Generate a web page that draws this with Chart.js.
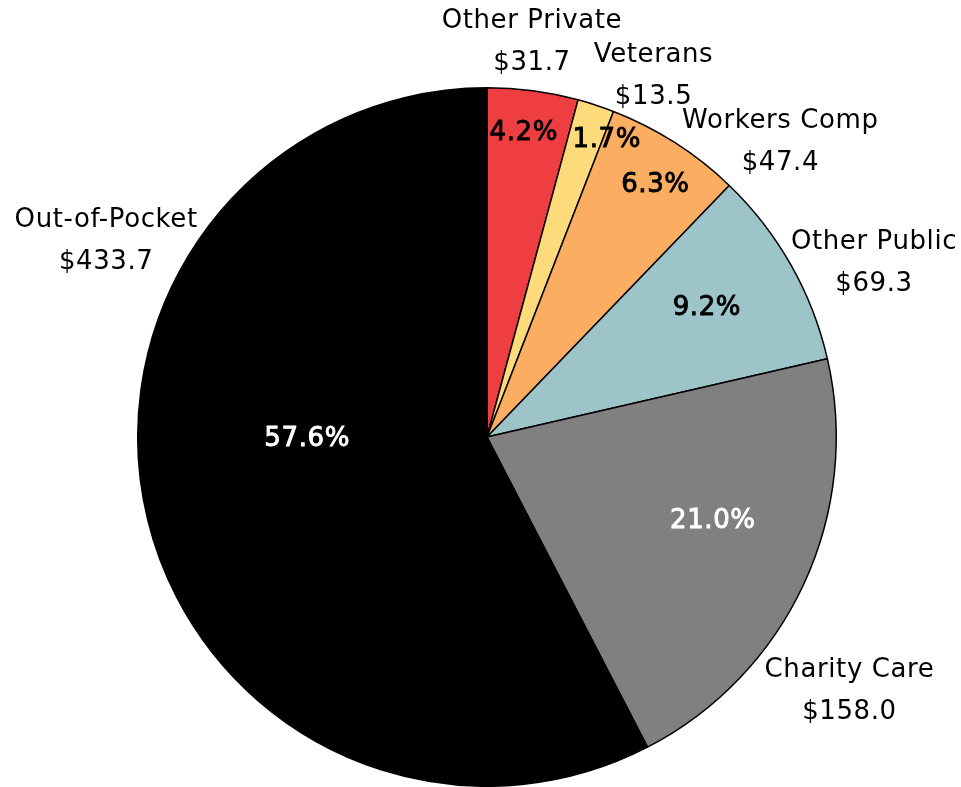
<!DOCTYPE html>
<html>
<head>
<meta charset="utf-8">
<script src="https://cdn.jsdelivr.net/npm/chart.js@4.4.1/dist/chart.umd.min.js"></script>
<style>
  html, body { margin: 0; padding: 0; background: #fff; }
  #wrap { width: 961px; height: 787px; }
</style>
</head>
<body>
<div id="wrap"><canvas id="pie"></canvas></div>
<script>
// spending by payer: amount ($ billions) and share of total (%)
const payers = ['Other Private', 'Veterans', 'Workers Comp', 'Other Public', 'Charity Care', 'Out-of-Pocket'];
const amounts = [31.7, 13.5, 47.4, 69.3, 158.0, 433.7];
const shares = [4.2, 1.7, 6.3, 9.2, 21.0, 57.6];
const colors = ['#EF3E42', '#FEDB7A', '#FBAE62', '#9DC4C9', '#808080', '#000000'];
const pctColors = ['#000', '#000', '#000', '#000', '#fff', '#fff'];

// label placement: [angle in degrees clockwise from 12 o'clock, distance as fraction of radius]
const pctPos = [[6.9, 0.876], [22.0, 0.916], [33.8, 0.867], [59.6, 0.73], [110.4, 0.69], [269.4, 0.515]];
const namePos = [[6.5, 1.137], [24.8, 1.137], [44.9, 1.19], [65.8, 1.215], [125.0, 1.267], [297.2, 1.226]];

const FONT = '26px "DejaVu Sans", sans-serif';
const fmtMoney = v => '$' + v.toFixed(1);
const fmtPct = v => v.toFixed(1) + '%';

function polar(arc, [deg, f]) {
  const a = (deg - 90) * Math.PI / 180;
  return [arc.x + Math.cos(a) * arc.outerRadius * f, arc.y + Math.sin(a) * arc.outerRadius * f];
}

const sliceLabels = {
  id: 'sliceLabels',
  afterDatasetsDraw(chart) {
    const ctx = chart.ctx;
    const arcs = chart.getDatasetMeta(0).data;
    ctx.save();
    ctx.textAlign = 'center';
    ctx.textBaseline = 'middle';
    ctx.font = FONT;
    ctx.letterSpacing = '0.6px';
    arcs.forEach((arc, i) => {
      // percent inside the slice, slightly heavier
      let [x, y] = polar(arc, pctPos[i]);
      ctx.fillStyle = ctx.strokeStyle = pctColors[i];
      ctx.lineWidth = 0.9;
      ctx.fillText(fmtPct(shares[i]), x, y);
      ctx.strokeText(fmtPct(shares[i]), x, y);
      // name + amount outside
      [x, y] = polar(arc, namePos[i]);
      ctx.fillStyle = '#000';
      ctx.fillText(payers[i], x, y - 21);
      ctx.fillText(fmtMoney(amounts[i]), x, y + 21);
    });
    ctx.restore();
  }
};

new Chart(document.getElementById('pie'), {
  type: 'pie',
  data: {
    labels: payers,
    datasets: [{
      data: shares,
      backgroundColor: colors,
      borderColor: '#000',
      borderWidth: 1.5
    }]
  },
  options: {
    responsive: true,
    maintainAspectRatio: false,
    animation: false,
    layout: { padding: { left: 137, right: 124, top: 87, bottom: 0 } },
    plugins: { legend: { display: false }, tooltip: { enabled: false } }
  },
  plugins: [sliceLabels]
});
</script>
</body>
</html>
